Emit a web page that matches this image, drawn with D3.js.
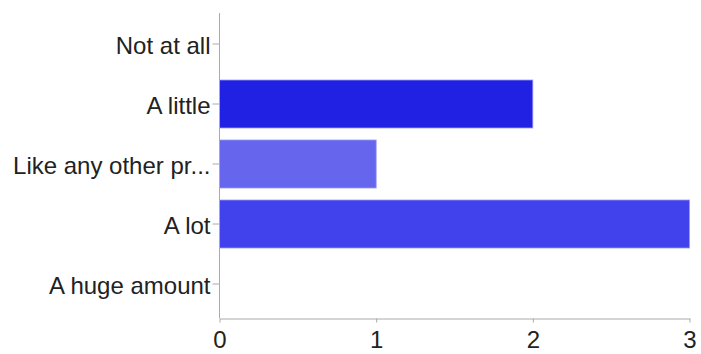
<!DOCTYPE html>
<html><head><meta charset="utf-8">
<script src="https://cdn.jsdelivr.net/npm/d3@7"></script>
<style>body{margin:0;background:#fff}svg{display:block}text{font-family:"Liberation Sans",Arial,Helvetica,sans-serif}</style>
</head><body><svg id="c" width="701" height="354"></svg>
<script>
const categories = ["Not at all","A little","Like any other pr...","A lot","A huge amount"];
const values = [0, 2, 1, 3, 0];
const colors = ["#2121e3","#2121e3","#6565ee","#4242ec","#4242ec"];
const xTicks = [0,1,2,3];

const svg = d3.select("#c");
const x = d3.scaleLinear().domain([0,3]).range([219.5,689.5]);
const y = d3.scaleBand().domain(categories).range([14,314]).paddingInner(0.2).paddingOuter(0.1);

svg.selectAll("rect.bar").data(categories).enter().append("rect")
  .attr("class","bar")
  .attr("x", x(0))
  .attr("y", d => y(d))
  .attr("width", (d,i) => x(values[i]) - x(0))
  .attr("height", y.bandwidth())
  .attr("fill", (d,i) => colors[i])
  .attr("stroke", (d,i) => values[i] ? "#9a9af5" : "none")
  .attr("stroke-width", 0.8);

const yAx = svg.append("g").attr("transform","translate(219.5,0)")
  .call(d3.axisLeft(y).tickSize(7).tickSizeOuter(0));
const xAx = svg.append("g").attr("transform","translate(0,318.5)")
  .call(d3.axisBottom(x).tickValues(xTicks).tickFormat(d3.format("d")).tickSize(4).tickSizeOuter(0));

[yAx,xAx].forEach(g=>{
  g.select(".domain").attr("stroke","#aaa");
  g.selectAll(".tick line").attr("stroke","#aaa");
  g.selectAll("text").attr("fill","#222").style("font-size","24px");
});
yAx.selectAll("text").attr("x",-9).attr("dy","0.42em");
yAx.select(".domain").attr("d","M0,13V318");
xAx.selectAll("text").attr("dy","0").attr("y",29.5);
</script></body></html>
